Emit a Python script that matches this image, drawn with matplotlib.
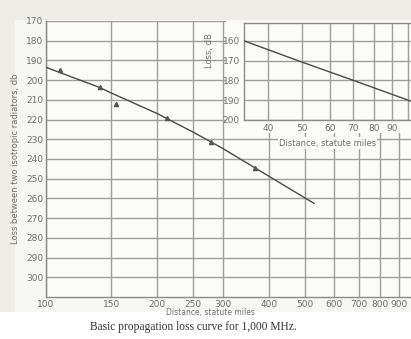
import matplotlib
matplotlib.use("Agg")
import matplotlib.pyplot as plt
from matplotlib.patches import Rectangle
from matplotlib.ticker import FixedLocator, NullLocator, FixedFormatter

# ---- data ----
curve_dist = [100, 140, 150, 200, 250, 300, 400, 530]
curve_loss = [193.5, 203.8, 206.5, 217.0, 226.4, 234.6, 248.7, 262.5]
meas_dist = [109, 140, 155, 212, 280, 367]
meas_loss = [194.9, 203.3, 212.3, 219.1, 231.3, 244.5]
x_ticks = [100, 150, 200, 250, 300, 400, 500, 600, 700, 800, 900]
y_ticks = [170, 180, 190, 200, 210, 220, 230, 240, 250, 260, 270, 280, 290, 300]

inset_dist = [34.2, 49.0, 70.0, 102]
inset_loss = [160.0, 170.2, 180.0, 190.5]
inset_x_ticks = [40, 50, 60, 70, 80, 90]
inset_y_ticks = [160, 170, 180, 190, 200]

W, H = 411, 339
fig = plt.figure(figsize=(W / 100, H / 100), dpi=100)
fig.patch.set_facecolor("white")

def fx(px):
    return px / W

def fy(py):
    return 1 - py / H

# background of the scanned page
fig.patches.append(Rectangle((0, fy(312)), 1, 1 - fy(312), transform=fig.transFigure,
                             facecolor="#efede8", edgecolor="none", zorder=-2))
fig.patches.append(Rectangle((fx(15), fy(312)), 1, fy(20) - fy(312), transform=fig.transFigure,
                             facecolor="#f6f6f4", edgecolor="none", zorder=-1))

tc = "#707070"
gc = "#9e9e9e"
lc = "#4a4a4a"

ax = fig.add_axes([fx(46), fy(297), fx(411) - fx(46), fy(21) - fy(297)])
ax.set_facecolor("#fbfbfa")
ax.set_xscale("log")
ax.set_xlim(100, 969)
ax.set_ylim(310, 170)
ax.xaxis.set_major_locator(FixedLocator(x_ticks))
ax.xaxis.set_major_formatter(FixedFormatter([str(v) for v in x_ticks]))
ax.xaxis.set_minor_locator(NullLocator())
ax.yaxis.set_major_locator(FixedLocator(y_ticks))
ax.grid(True, color=gc, linewidth=1.0)
ax.tick_params(length=0, labelsize=6.5, colors=tc, pad=2)
for s in ["top", "right"]:
    ax.spines[s].set_visible(False)
for s in ["left", "bottom"]:
    ax.spines[s].set_color("#8a8a8a")
    ax.spines[s].set_linewidth(1.0)
ax.plot(curve_dist, curve_loss, color=lc, linewidth=1.0, zorder=3)
ax.plot(meas_dist, meas_loss, linestyle="none", marker="^", markersize=3.0,
        color="#555555", zorder=4)
ax.set_ylabel("Loss between two isotropic radiators, db", fontsize=6, color=tc, labelpad=4)
ax.set_xlabel("Distance, statute miles", fontsize=5.5, color=tc, labelpad=0)
ax.xaxis.set_label_coords((210 - 46) / (411 - 46), -(312 - 297) / (297 - 21))
ax.xaxis.label.set_va("center")

# white area behind inset and its labels
fig.patches.append(Rectangle((fx(226), fy(133)), fx(411) - fx(226), fy(21) - fy(133),
                             transform=fig.transFigure, facecolor="#fbfbfa",
                             edgecolor="none", zorder=0.5))

ins = fig.add_axes([fx(244), fy(120), fx(411) - fx(244), fy(23) - fy(120)], zorder=1)
ins.set_facecolor("#fbfbfa")
ins.set_xscale("log")
ins.set_xlim(34.2, 102)
ins.set_ylim(200, 151)
ins.xaxis.set_major_locator(FixedLocator(inset_x_ticks + [100]))
ins.xaxis.set_major_formatter(FixedFormatter([str(v) for v in inset_x_ticks] + [""]))
ins.xaxis.set_minor_locator(NullLocator())
ins.yaxis.set_major_locator(FixedLocator(inset_y_ticks))
ins.grid(True, color=gc, linewidth=1.0)
ins.tick_params(length=0, labelsize=6.5, colors=tc, pad=3)
for s in ins.spines.values():
    s.set_color("#8a8a8a")
    s.set_linewidth(1.0)
ins.spines["right"].set_visible(False)
ins.plot(inset_dist, inset_loss, color=lc, linewidth=1.0, zorder=3)
ins.set_ylabel("Loss, dB", fontsize=6, color=tc)
ins.yaxis.set_label_coords(-0.18, 0.72)
ins.set_xlabel("Distance, statute miles", fontsize=6, color=tc, labelpad=4,
               bbox=dict(facecolor="#fbfbfa", edgecolor="none", pad=1))

fig.text(fx(193), fy(327), "Basic propagation loss curve for 1,000 MHz.",
         ha="center", va="center", fontsize=8.3, color="#333333", family="Liberation Serif")

fig.savefig("out.png", dpi=100, facecolor=fig.get_facecolor())
